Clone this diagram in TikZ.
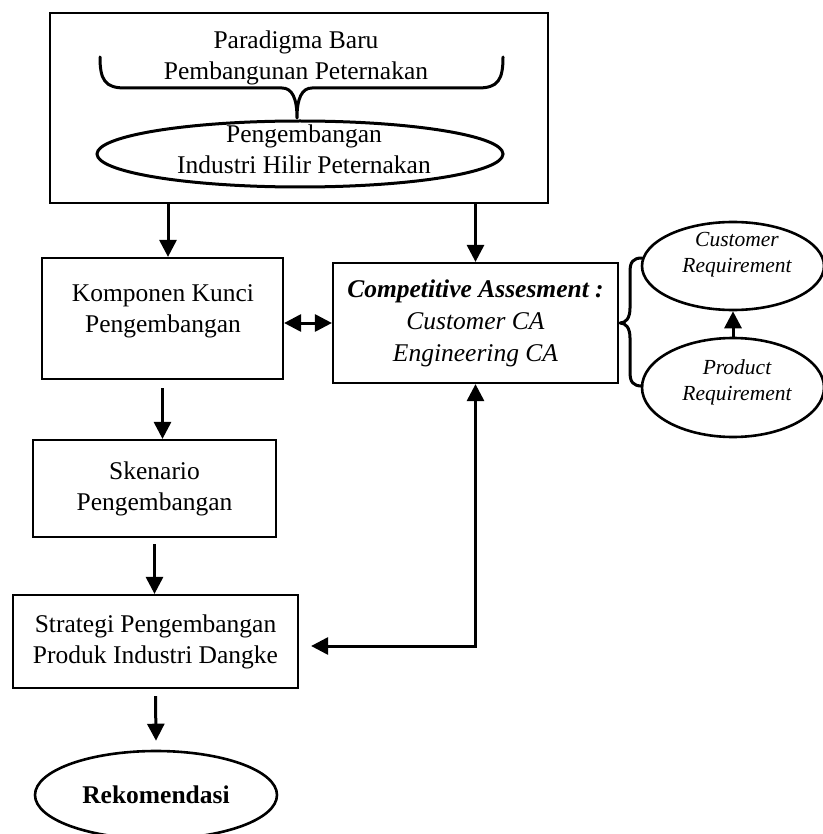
\documentclass[tikz,border=0pt]{standalone}
\usepackage{fontspec}
\setmainfont{Liberation Serif}
\usetikzlibrary{arrows.meta,shapes.geometric,calc}
\begin{document}
\begin{tikzpicture}[x=1pt,y=-1pt,
  every node/.style={font=\fontsize{25.5}{31}\selectfont, align=center},
  boxst/.style={draw, rectangle, line width=2.2pt, inner sep=0pt},
  ovalst/.style={draw, ellipse, line width=2.6pt, inner sep=0pt},
  txt/.style={inner sep=0pt},
  reqtxt/.style={inner sep=0pt, font=\fontsize{21.5}{26}\selectfont\itshape},
  arr/.style={line width=3pt, -{Triangle[width=17pt,length=17pt]}},
  twoarr/.style={line width=3pt, {Triangle[width=17pt,length=17pt]}-{Triangle[width=17pt,length=17pt]}},
  bracest/.style={line width=3pt, line cap=round, line join=round}
]
\useasboundingbox (0,0) rectangle (822,834);

% framed heading block
\node[boxst, minimum width=498pt, minimum height=190pt] (topbox) at (299,108) {};
\node[txt] (paradigma) at (296,58) {Paradigma Baru\\Pembangunan Peternakan};
\node[ovalst, line width=3pt, minimum width=406pt, minimum height=66pt] (hilir) at (300,154) {};
\node[txt] (hilirtxt) at (304,149) {Pengembangan\\Industri Hilir Peternakan};

% brace under the heading text, pointing down to the oval
\draw[bracest] (100,57) .. controls (100,80) and (105,88) .. (125,88)
  -- (282,88) .. controls (292,88) and (297,98) .. (297,118)
  .. controls (297,98) and (302,88) .. (312,88)
  -- (478,88) .. controls (498,88) and (503,80) .. (503,57);

% left column
\node[boxst, minimum width=241pt, minimum height=121pt] (komp) at (162.5,318.5) {};
\node[txt] (komptxt) at (163,311) {Komponen Kunci\\Pengembangan};
\node[boxst, minimum width=243pt, minimum height=97pt] (sken) at (154.5,488.5) {Skenario\\Pengembangan};
\node[boxst, minimum width=285pt, minimum height=93pt] (strat) at (155.5,641.5) {Strategi Pengembangan\\Produk Industri Dangke};
\node[ovalst, minimum width=242pt, minimum height=88pt] (rek) at (156,795) {\bfseries Rekomendasi};

% competitive assessment block
\node[boxst, minimum width=285pt, minimum height=120pt,
      font=\fontsize{25.5}{32}\selectfont\itshape] (ca) at (475.5,323)
  {\bfseries Competitive Assesment :\\Customer CA\\Engineering CA};

% requirement ovals
\node[ovalst, minimum width=182pt, minimum height=88pt] (cust) at (733,266) {};
\node[reqtxt] (custtxt) at (737,255) {Customer\\Requirement};
\node[ovalst, minimum width=182pt, minimum height=99pt] (prod) at (733,387.5) {};
\node[reqtxt] (prodtxt) at (737,382) {Product\\Requirement};

% brace joining the requirement ovals to the assessment block
\draw[bracest] (642,258) .. controls (633,258) and (630,262) .. (630,272)
  -- (630,308) .. controls (630,318) and (626,323) .. (620,323)
  .. controls (626,323) and (630,328) .. (630,338)
  -- (630,372) .. controls (630,382) and (633,386) .. (642,386);

% connectors
\draw[arr] ([xshift=5.5pt]komp.north |- topbox.south) -- ([xshift=5.5pt]komp.north);
\draw[arr] (topbox.south -| ca.north) -- (ca.north);
\draw[twoarr] (komp.east |- ca.west) -- (ca.west);
\draw[arr] ([yshift=-8pt]komp.south) -- (komp.south |- sken.north);
\draw[arr] ([yshift=-6pt]sken.south) -- (sken.south |- strat.north);
\draw[arr] ([yshift=-7pt]strat.south) -- ([yshift=9pt]rek.north);
\draw[arr] (prod.north) -- (cust.south);
\coordinate (loopc) at (ca.south |- 0,646);
\draw[twoarr] ([xshift=12pt]strat.east |- loopc) -- (loopc) -- (ca.south);
\end{tikzpicture}
\end{document}
